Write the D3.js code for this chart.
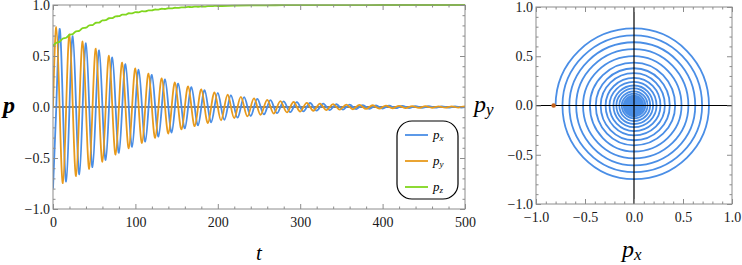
<!DOCTYPE html>
<html>
<head>
<meta charset="utf-8">
<script src="https://cdn.jsdelivr.net/npm/d3@7"></script>
<style>
  body { margin: 0; background: #fff; }
  svg { display: block; }
  text { font-family: "Liberation Serif", "Times New Roman", Times, serif; }
</style>
</head>
<body>
<svg id="chart" width="742" height="265"></svg>
<script>
// px extrema at t = 0, 8, 16, ...
var pxPeaks = [-0.80, 0.765, -0.73, 0.695, -0.66, 0.625, -0.59, 0.555, -0.52, 0.485,
  -0.45, 0.42, -0.39, 0.365, -0.34, 0.315, -0.29, 0.27, -0.25, 0.23,
  -0.21, 0.195, -0.18, 0.165, -0.15, 0.138, -0.125, 0.115, -0.105, 0.096,
  -0.088, 0.080, -0.073, 0.067, -0.061, 0.056, -0.051, 0.047, -0.043, 0.039,
  -0.036, 0.033, -0.030, 0.027, -0.025, 0.023, -0.021, 0.019, -0.018, 0.016,
  -0.015, 0.013, -0.012, 0.011, -0.010, 0.009, -0.008, 0.0075, -0.007, 0.0065,
  -0.006, 0.0055, -0.005];

// py extrema at t = 4, 12, 20, ...
var pyPeaks = [0.782, -0.747, 0.712, -0.677, 0.642, -0.607, 0.572, -0.537, 0.502, -0.467,
  0.435, -0.405, 0.378, -0.353, 0.328, -0.303, 0.28, -0.26, 0.24, -0.22,
  0.203, -0.188, 0.173, -0.158, 0.144, -0.131, 0.120, -0.110, 0.100, -0.092,
  0.084, -0.076, 0.070, -0.064, 0.058, -0.053, 0.049, -0.045, 0.041, -0.037,
  0.034, -0.031, 0.028, -0.026, 0.024, -0.022, 0.020, -0.019, 0.017, -0.0155,
  0.014, -0.0125, 0.0115, -0.0105, 0.0095, -0.0085, 0.008, -0.0072, 0.0068, -0.0062,
  0.0058, -0.0052, 0.0048];

// pz
var pzT = [0, 4, 8, 12, 16, 20, 24, 28, 32, 36, 40, 44, 48, 52, 56, 60, 64, 68, 72, 76,
  80, 84, 88, 92, 96, 100, 104, 108, 112, 116, 120, 124, 128, 132, 136, 140, 144, 148, 152, 156,
  160, 164, 168, 172, 176, 180, 184, 188, 192, 196, 200,
  220, 240, 260, 280, 300, 340, 380, 420, 460, 500];
var pzV = [0.600, 0.629, 0.640, 0.671, 0.679, 0.708, 0.715, 0.742, 0.747, 0.773,
  0.777, 0.801, 0.803, 0.826, 0.828, 0.849, 0.851, 0.870, 0.872, 0.889,
  0.890, 0.905, 0.905, 0.919, 0.918, 0.930, 0.928, 0.940, 0.937, 0.948,
  0.947, 0.956, 0.955, 0.963, 0.961, 0.968, 0.967, 0.973, 0.972, 0.977,
  0.977, 0.981, 0.980, 0.984, 0.983, 0.986, 0.985, 0.989, 0.988, 0.991, 0.990,
  0.994, 0.996, 0.997, 0.998, 0.9985, 0.999, 0.9995, 1.0, 1.0, 1.0];

var startPoint = [-0.82, 0];

var tTicks = [0, 100, 200, 300, 400, 500];
var pTicks = [-1.0, -0.5, 0.0, 0.5, 1.0];

var blue = '#4a8ee6', orange = '#e89a1c', green = '#80d61e';
var frameColor = '#8c8c8c';
var serif = '"Liberation Serif", "Times New Roman", Times, serif';

var svg = d3.select('#chart');
var fmt = d3.format('.1f');

// quarter period grid: 4 time units per step
var tGrid = d3.range(0, 501, 4);
var pts = tGrid.map(function(t, i) {
  return {
    t: t,
    px: i % 2 === 0 ? pxPeaks[i / 2] : 0,
    py: i % 2 === 1 ? pyPeaks[(i - 1) / 2] : 0
  };
});

function frame(g, x, y, xMajor, yMajor, xMinor, yMinor, xfmt) {
  var x0 = x.range()[0], x1 = x.range()[1];
  var y0 = y.range()[0], y1 = y.range()[1];

  function add(axis, tr, vals, size, pad, f) {
    var a = g.append('g').attr('transform', tr)
      .call(axis.tickValues(vals).tickSize(size).tickPadding(pad).tickFormat(f));
    // axis sets its own font attrs, so override afterwards
    a.attr('font-family', serif).attr('font-size', 14);
    a.select('.domain').remove();
    a.selectAll('line').attr('stroke', frameColor);
    a.selectAll('text').attr('fill', '#1a1a1a');
    return a;
  }
  add(d3.axisBottom(x), 'translate(0,' + y0 + ')', xMajor, -5, 8, xfmt);
  add(d3.axisBottom(x), 'translate(0,' + y0 + ')', xMinor, -2.5, 8, '');
  add(d3.axisTop(x), 'translate(0,' + y1 + ')', xMajor, -5, 4, '');
  add(d3.axisTop(x), 'translate(0,' + y1 + ')', xMinor, -2.5, 4, '');
  add(d3.axisLeft(y), 'translate(' + x0 + ',0)', yMajor, -5, 3, fmt);
  add(d3.axisLeft(y), 'translate(' + x0 + ',0)', yMinor, -2.5, 3, '');
  add(d3.axisRight(y), 'translate(' + x1 + ',0)', yMajor, -5, 4, '');
  add(d3.axisRight(y), 'translate(' + x1 + ',0)', yMinor, -2.5, 4, '');

  g.append('rect')
    .attr('x', x0).attr('y', y1)
    .attr('width', x1 - x0).attr('height', y0 - y1)
    .attr('fill', 'none').attr('stroke', frameColor).attr('stroke-width', 1);
}

function minors(lo, hi, step, majors) {
  return d3.range(lo, hi + step / 2, step).filter(function(v) {
    return !majors.some(function(m) { return Math.abs(m - v) < 1e-9; });
  });
}

// ---- left: time series ----
var x = d3.scaleLinear().domain([0, 500]).range([53, 465]);
var y = d3.scaleLinear().domain([-1, 1]).range([209, 5]);

var left = svg.append('g');
svg.append('clipPath').attr('id', 'clipL').append('rect')
  .attr('x', 53).attr('y', 3).attr('width', 412).attr('height', 206);

var plot = left.append('g').attr('clip-path', 'url(#clipL)');

plot.append('line')
  .attr('x1', x(0)).attr('x2', x(500)).attr('y1', y(0)).attr('y2', y(0))
  .attr('stroke', '#000').attr('stroke-width', 1.2);

var lineT = function(key) {
  return d3.line().curve(d3.curveNatural)
    .x(function(d) { return x(d.t); })
    .y(function(d) { return y(d[key]); });
};

plot.append('path').datum(pts).attr('d', lineT('px'))
  .attr('fill', 'none').attr('stroke', blue).attr('stroke-width', 1.8);
plot.append('path').datum(pts).attr('d', lineT('py'))
  .attr('fill', 'none').attr('stroke', orange).attr('stroke-width', 1.8);
plot.append('path').datum(pzT.map(function(t, i) { return [t, pzV[i]]; }))
  .attr('d', d3.line().curve(d3.curveMonotoneX)
    .x(function(d) { return x(d[0]); }).y(function(d) { return y(d[1]); }))
  .attr('fill', 'none').attr('stroke', green).attr('stroke-width', 1.8);

frame(left, x, y, tTicks, pTicks, minors(0, 500, 20, tTicks), minors(-1, 1, 0.1, pTicks), d3.format('d'));

left.append('text').attr('x', 3).attr('y', 113)
  .style('font-size', '24px').style('font-style', 'italic').style('font-weight', 'bold')
  .text('p');
left.append('text').attr('x', 259).attr('y', 260).attr('text-anchor', 'middle')
  .style('font-size', '21px').style('font-style', 'italic')
  .text('t');

// legend
var leg = left.append('g');
leg.append('rect').attr('x', 397).attr('y', 121).attr('width', 61).attr('height', 78)
  .attr('rx', 15).attr('ry', 15)
  .attr('fill', '#fff').attr('stroke', '#000').attr('stroke-width', 1.2);
var legItems = [['x', blue], ['y', orange], ['z', green]];
legItems.forEach(function(d, i) {
  var yy = 135 + i * 26;
  leg.append('line').attr('x1', 405).attr('x2', 428).attr('y1', yy).attr('y2', yy)
    .attr('stroke', d[1]).attr('stroke-width', 1.8);
  var tx = leg.append('text').attr('x', 433).attr('y', yy + 4)
    .style('font-size', '13px').style('font-style', 'italic');
  tx.append('tspan').text('p');
  tx.append('tspan').attr('dy', 2).style('font-size', '9px').text(d[0]);
});

// ---- right: spiral ----
var sx = d3.scaleLinear().domain([-1, 1]).range([536, 732]);
var sy = d3.scaleLinear().domain([-1, 1]).range([204, 7]);
var right = svg.append('g');
svg.append('clipPath').attr('id', 'clipR').append('rect')
  .attr('x', 536).attr('y', 7).attr('width', 196).attr('height', 197);
var rp = right.append('g').attr('clip-path', 'url(#clipR)');

// each quarter turn as a quarter-ellipse bezier between axis crossings
var kappa = 0.5523;
var cx = sx(0), cy = sy(0);
var sp = d3.path();
pts.forEach(function(d, i) {
  var px = sx(d.px), py = sy(d.py);
  if (i === 0) { sp.moveTo(px, py); return; }
  var q = pts[i - 1];
  var qx = sx(q.px), qy = sy(q.py);
  sp.bezierCurveTo(
    qx + kappa * (px - cx), qy + kappa * (py - cy),
    px + kappa * (qx - cx), py + kappa * (qy - cy),
    px, py);
});
rp.append('path').attr('d', sp.toString())
  .attr('fill', 'none').attr('stroke', blue).attr('stroke-width', 1.8);

rp.append('line').attr('x1', sx(-1)).attr('x2', sx(1)).attr('y1', sy(0)).attr('y2', sy(0))
  .attr('stroke', '#000').attr('stroke-width', 1.2);
rp.append('line').attr('x1', sx(0)).attr('x2', sx(0)).attr('y1', sy(-1)).attr('y2', sy(1))
  .attr('stroke', '#000').attr('stroke-width', 1.2);

rp.append('circle').attr('cx', sx(startPoint[0])).attr('cy', sy(startPoint[1])).attr('r', 2.3)
  .attr('fill', '#c4621c');

frame(right, sx, sy, pTicks, pTicks, minors(-1, 1, 0.1, pTicks), minors(-1, 1, 0.1, pTicks), fmt);

var lx = right.append('text').attr('x', 622).attr('y', 257)
  .style('font-size', '24px').style('font-style', 'italic');
lx.append('tspan').text('p');
lx.append('tspan').attr('dy', 3).style('font-size', '17px').text('x');

var ly = right.append('text').attr('x', 474).attr('y', 112)
  .style('font-size', '24px').style('font-style', 'italic');
ly.append('tspan').text('p');
ly.append('tspan').attr('dy', 3).style('font-size', '17px').text('y');
</script>
</body>
</html>
